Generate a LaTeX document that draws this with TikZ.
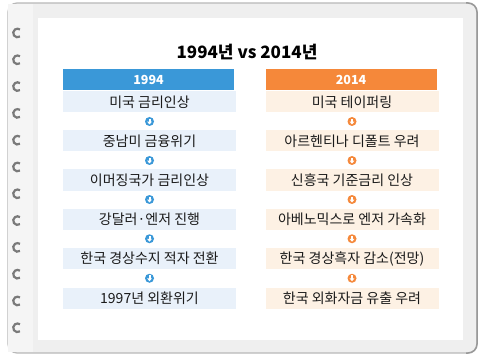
\documentclass[tikz,border=0pt]{standalone}
\usepackage{fontspec}
\setmainfont{Noto Sans CJK KR}
\usetikzlibrary{calc}
\definecolor{hblue}{HTML}{3A98D8}
\definecolor{horange}{HTML}{F5883A}
\definecolor{rblue}{HTML}{E9F1FA}
\definecolor{rorange}{HTML}{FDF1E4}
\definecolor{framegray}{HTML}{EFEFEF}
\definecolor{ringgray}{HTML}{7A7A7A}
\definecolor{txt}{HTML}{1A1A1A}
\begin{document}
\begin{tikzpicture}[x=1pt,y=-1pt,
  rowbox/.style={minimum width=173pt, minimum height=21pt, inner sep=0pt, text=txt,
    font=\fontsize{14}{16}\selectfont},
  lrow/.style={rowbox, fill=rblue},
  rrow/.style={rowbox, fill=rorange},
  head/.style={minimum width=171pt, minimum height=21pt, inner sep=0pt, text=white,
    font=\fontsize{12.5}{14}\selectfont\bfseries},
  dot/.style={circle, minimum size=9pt, inner sep=0pt},
  ring/.style={draw=ringgray, line width=2.2pt}
]
\useasboundingbox (0,0) rectangle (486,363);
\fill[white] (0,0) rectangle (486,363);
% frame
\draw[fill=framegray, draw=gray!55, line width=1.2pt, rounded corners=9pt] (8,3) rectangle (477,353);
\draw[gray!80, line width=1.5pt, rounded corners=9pt] (466,3) -- (477,3) -- (477,353) -- (466,353);
\fill[gray!8] (8,4) rectangle (33,352);
\fill[white] (38,18) rectangle (463,340);
% rings
\foreach \k in {0,...,11} {
  \draw[ring] ($(17.5,33)+(0,26.8*\k)$) ++(55:4.3) arc (55:305:4.3);
}
% title
\node[text=black, font=\fontsize{17}{20}\selectfont\bfseries] (title) at (247,52) {1994년 vs 2014년};
% headers
\node[head, fill=hblue] (hl) at (148.5,80) {1994};
\node[head, fill=horange] (hr) at (351,80) {2014};
% left column
\node[lrow] (l1) at (149.5,102) {미국 금리인상};
\node[lrow] (l2) at (149.5,141) {중남미 금융위기};
\node[lrow] (l3) at (149.5,180) {이머징국가 금리인상};
\node[lrow] (l4) at (149.5,219) {강달러·엔저 진행};
\node[lrow] (l5) at (149.5,258.5) {한국 경상수지 적자 전환};
\node[lrow] (l6) at (149.5,298) {1997년 외환위기};
% right column
\node[rrow] (r1) at (352,102) {미국 테이퍼링};
\node[rrow] (r2) at (352,141) {아르헨티나 디폴트 우려};
\node[rrow] (r3) at (352,180) {신흥국 기준금리 인상};
\node[rrow] (r4) at (352,219) {아베노믹스로 엔저 가속화};
\node[rrow] (r5) at (352,258.5) {한국 경상흑자 감소(전망)};
\node[rrow] (r6) at (352,298) {한국 외화자금 유출 우려};
% arrow icons
\foreach \a/\b in {1/2,2/3,3/4,4/5,5/6} {
  \node[dot, fill=hblue] (la\a) at ($(l\a)!0.5!(l\b)$) {};
  \fill[white] ($(la\a)+(-2.4,0.2)$) -- ($(la\a)+(2.4,0.2)$) -- ($(la\a)+(0,3)$) -- cycle;
  \fill[white] ($(la\a)+(-1,-2.8)$) rectangle ($(la\a)+(1,0.4)$);
  \node[dot, fill=horange] (ra\a) at ($(r\a)!0.5!(r\b)$) {};
  \fill[white] ($(ra\a)+(-2.4,0.2)$) -- ($(ra\a)+(2.4,0.2)$) -- ($(ra\a)+(0,3)$) -- cycle;
  \fill[white] ($(ra\a)+(-1,-2.8)$) rectangle ($(ra\a)+(1,0.4)$);
}
\end{tikzpicture}
\end{document}
